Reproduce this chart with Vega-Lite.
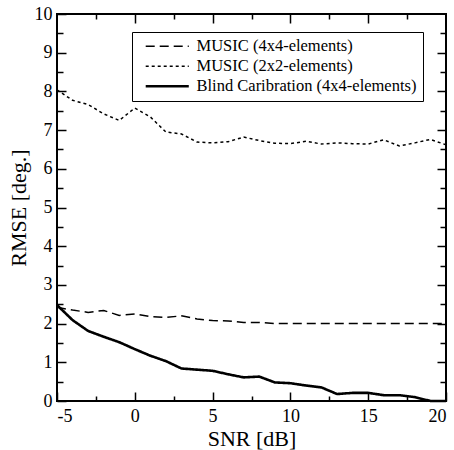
{
  "$schema": "https://vega.github.io/schema/vega-lite/v6.json",
  "width": 389,
  "height": 387,
  "autosize": "none",
  "padding": {"left": 57, "top": 14, "right": 8, "bottom": 49},
  "background": "white",
  "config": {
    "view": {"stroke": "black", "strokeWidth": 2, "fill": "transparent"},
    "font": "Liberation Serif",
    "axis": {
      "grid": false, "domain": false, "ticks": true, "tickColor": "black", "tickWidth": 1.5, "tickOpacity": 1,
      "labelFont": "Liberation Serif", "labelFontSize": 18, "labelColor": "black",
      "titleFont": "Liberation Serif", "titleFontSize": 22, "titleFontWeight": "normal", "titleColor": "black"
    }
  },
  "data": {
    "values": [
      {"snr": -5, "rmse": 2.42, "method": "MUSIC (4x4-elements)"},
      {"snr": -4, "rmse": 2.35, "method": "MUSIC (4x4-elements)"},
      {"snr": -3, "rmse": 2.29, "method": "MUSIC (4x4-elements)"},
      {"snr": -2, "rmse": 2.34, "method": "MUSIC (4x4-elements)"},
      {"snr": -1, "rmse": 2.21, "method": "MUSIC (4x4-elements)"},
      {"snr": 0, "rmse": 2.25, "method": "MUSIC (4x4-elements)"},
      {"snr": 1, "rmse": 2.18, "method": "MUSIC (4x4-elements)"},
      {"snr": 2, "rmse": 2.16, "method": "MUSIC (4x4-elements)"},
      {"snr": 3, "rmse": 2.2, "method": "MUSIC (4x4-elements)"},
      {"snr": 4, "rmse": 2.12, "method": "MUSIC (4x4-elements)"},
      {"snr": 5, "rmse": 2.08, "method": "MUSIC (4x4-elements)"},
      {"snr": 6, "rmse": 2.07, "method": "MUSIC (4x4-elements)"},
      {"snr": 7, "rmse": 2.03, "method": "MUSIC (4x4-elements)"},
      {"snr": 8, "rmse": 2.03, "method": "MUSIC (4x4-elements)"},
      {"snr": 9, "rmse": 2.0, "method": "MUSIC (4x4-elements)"},
      {"snr": 10, "rmse": 2.0, "method": "MUSIC (4x4-elements)"},
      {"snr": 11, "rmse": 2.0, "method": "MUSIC (4x4-elements)"},
      {"snr": 12, "rmse": 2.0, "method": "MUSIC (4x4-elements)"},
      {"snr": 13, "rmse": 2.0, "method": "MUSIC (4x4-elements)"},
      {"snr": 14, "rmse": 2.0, "method": "MUSIC (4x4-elements)"},
      {"snr": 15, "rmse": 2.0, "method": "MUSIC (4x4-elements)"},
      {"snr": 16, "rmse": 2.0, "method": "MUSIC (4x4-elements)"},
      {"snr": 17, "rmse": 2.0, "method": "MUSIC (4x4-elements)"},
      {"snr": 18, "rmse": 2.0, "method": "MUSIC (4x4-elements)"},
      {"snr": 19, "rmse": 2.0, "method": "MUSIC (4x4-elements)"},
      {"snr": 20, "rmse": 2.0, "method": "MUSIC (4x4-elements)"},
      {"snr": -5, "rmse": 8.04, "method": "MUSIC (2x2-elements)"},
      {"snr": -4, "rmse": 7.77, "method": "MUSIC (2x2-elements)"},
      {"snr": -3, "rmse": 7.66, "method": "MUSIC (2x2-elements)"},
      {"snr": -2, "rmse": 7.42, "method": "MUSIC (2x2-elements)"},
      {"snr": -1, "rmse": 7.25, "method": "MUSIC (2x2-elements)"},
      {"snr": 0, "rmse": 7.57, "method": "MUSIC (2x2-elements)"},
      {"snr": 1, "rmse": 7.34, "method": "MUSIC (2x2-elements)"},
      {"snr": 2, "rmse": 6.95, "method": "MUSIC (2x2-elements)"},
      {"snr": 3, "rmse": 6.9, "method": "MUSIC (2x2-elements)"},
      {"snr": 4, "rmse": 6.69, "method": "MUSIC (2x2-elements)"},
      {"snr": 5, "rmse": 6.67, "method": "MUSIC (2x2-elements)"},
      {"snr": 6, "rmse": 6.7, "method": "MUSIC (2x2-elements)"},
      {"snr": 7, "rmse": 6.82, "method": "MUSIC (2x2-elements)"},
      {"snr": 8, "rmse": 6.73, "method": "MUSIC (2x2-elements)"},
      {"snr": 9, "rmse": 6.66, "method": "MUSIC (2x2-elements)"},
      {"snr": 10, "rmse": 6.65, "method": "MUSIC (2x2-elements)"},
      {"snr": 11, "rmse": 6.71, "method": "MUSIC (2x2-elements)"},
      {"snr": 12, "rmse": 6.64, "method": "MUSIC (2x2-elements)"},
      {"snr": 13, "rmse": 6.67, "method": "MUSIC (2x2-elements)"},
      {"snr": 14, "rmse": 6.65, "method": "MUSIC (2x2-elements)"},
      {"snr": 15, "rmse": 6.64, "method": "MUSIC (2x2-elements)"},
      {"snr": 16, "rmse": 6.75, "method": "MUSIC (2x2-elements)"},
      {"snr": 17, "rmse": 6.59, "method": "MUSIC (2x2-elements)"},
      {"snr": 18, "rmse": 6.67, "method": "MUSIC (2x2-elements)"},
      {"snr": 19, "rmse": 6.76, "method": "MUSIC (2x2-elements)"},
      {"snr": 20, "rmse": 6.62, "method": "MUSIC (2x2-elements)"},
      {"snr": -5, "rmse": 2.48, "method": "Blind Caribration (4x4-elements)"},
      {"snr": -4, "rmse": 2.09, "method": "Blind Caribration (4x4-elements)"},
      {"snr": -3, "rmse": 1.81, "method": "Blind Caribration (4x4-elements)"},
      {"snr": -2, "rmse": 1.66, "method": "Blind Caribration (4x4-elements)"},
      {"snr": -1, "rmse": 1.52, "method": "Blind Caribration (4x4-elements)"},
      {"snr": 0, "rmse": 1.34, "method": "Blind Caribration (4x4-elements)"},
      {"snr": 1, "rmse": 1.17, "method": "Blind Caribration (4x4-elements)"},
      {"snr": 2, "rmse": 1.03, "method": "Blind Caribration (4x4-elements)"},
      {"snr": 3, "rmse": 0.84, "method": "Blind Caribration (4x4-elements)"},
      {"snr": 4, "rmse": 0.81, "method": "Blind Caribration (4x4-elements)"},
      {"snr": 5, "rmse": 0.78, "method": "Blind Caribration (4x4-elements)"},
      {"snr": 6, "rmse": 0.69, "method": "Blind Caribration (4x4-elements)"},
      {"snr": 7, "rmse": 0.61, "method": "Blind Caribration (4x4-elements)"},
      {"snr": 8, "rmse": 0.63, "method": "Blind Caribration (4x4-elements)"},
      {"snr": 9, "rmse": 0.48, "method": "Blind Caribration (4x4-elements)"},
      {"snr": 10, "rmse": 0.46, "method": "Blind Caribration (4x4-elements)"},
      {"snr": 11, "rmse": 0.4, "method": "Blind Caribration (4x4-elements)"},
      {"snr": 12, "rmse": 0.35, "method": "Blind Caribration (4x4-elements)"},
      {"snr": 13, "rmse": 0.18, "method": "Blind Caribration (4x4-elements)"},
      {"snr": 14, "rmse": 0.21, "method": "Blind Caribration (4x4-elements)"},
      {"snr": 15, "rmse": 0.21, "method": "Blind Caribration (4x4-elements)"},
      {"snr": 16, "rmse": 0.15, "method": "Blind Caribration (4x4-elements)"},
      {"snr": 17, "rmse": 0.15, "method": "Blind Caribration (4x4-elements)"},
      {"snr": 18, "rmse": 0.1, "method": "Blind Caribration (4x4-elements)"},
      {"snr": 19, "rmse": 0.0, "method": "Blind Caribration (4x4-elements)"},
      {"snr": 20, "rmse": 0.0, "method": "Blind Caribration (4x4-elements)"}
    ]
  },
  "layer": [
    {
      "mark": {"type": "line", "color": "black"},
      "encoding": {
        "x": {"field": "snr", "type": "quantitative", "scale": {"domain": [-5, 20], "nice": false, "zero": false},
              "axis": {"orient": "bottom", "zindex": 1, "values": [-5, 0, 5, 10, 15, 20], "tickSize": -9, "labelPadding": 15, "labelExpr": "'' + datum.value", "title": "SNR [dB]", "titlePadding": 3}},
        "y": {"field": "rmse", "type": "quantitative", "scale": {"domain": [0, 10], "nice": false},
              "axis": {"orient": "left", "zindex": 1, "values": [0, 1, 2, 3, 4, 5, 6, 7, 8, 9, 10], "tickSize": -9, "labelPadding": 14, "title": "RMSE [deg.]", "titlePadding": 4}},
        "strokeDash": {"field": "method", "type": "nominal",
          "scale": {"domain": ["MUSIC (4x4-elements)", "MUSIC (2x2-elements)", "Blind Caribration (4x4-elements)"], "range": [[9, 5], [3, 3], [1, 0]]},
          "legend": {"title": null, "orient": "none", "legendX": 75, "legendY": 18, "strokeColor": "black", "fillColor": "white",
                     "padding": 6, "labelFont": "Liberation Serif", "labelFontSize": 16.5, "labelColor": "black", "labelLimit": 400,
                     "symbolType": "M-4,0H4", "symbolSize": 116, "symbolStrokeColor": "black", "symbolOffset": 21, "labelOffset": 21, "rowPadding": 3}},
        "strokeWidth": {"field": "method", "type": "nominal",
          "scale": {"type": "ordinal", "domain": ["MUSIC (4x4-elements)", "MUSIC (2x2-elements)", "Blind Caribration (4x4-elements)"], "range": [1.5, 1.5, 2.6]}}
      }
    },
    {
      "mark": {"type": "point", "opacity": 0},
      "encoding": {
        "x": {"field": "snr", "type": "quantitative", "axis": {"orient": "bottom", "zindex": 1, "values": [-2.5, 2.5, 7.5, 12.5, 17.5], "tickSize": -5, "labels": false, "title": null}},
        "y": {"field": "rmse", "type": "quantitative", "axis": {"orient": "left", "zindex": 1, "values": [0.5, 1.5, 2.5, 3.5, 4.5, 5.5, 6.5, 7.5, 8.5, 9.5], "tickSize": -6, "labels": false, "title": null}}
      }
    },
    {
      "mark": {"type": "point", "opacity": 0},
      "encoding": {
        "x": {"field": "snr", "type": "quantitative", "axis": {"orient": "top", "zindex": 1, "values": [0, 5, 10, 15], "tickSize": -9, "labels": false, "title": null}},
        "y": {"field": "rmse", "type": "quantitative", "axis": {"orient": "right", "zindex": 1, "values": [1, 2, 3, 4, 5, 6, 7, 8, 9], "tickSize": -9, "labels": false, "title": null}}
      }
    },
    {
      "mark": {"type": "point", "opacity": 0},
      "encoding": {
        "x": {"field": "snr", "type": "quantitative", "axis": {"orient": "top", "zindex": 1, "values": [-2.5, 2.5, 7.5, 12.5, 17.5], "tickSize": -5, "labels": false, "title": null}},
        "y": {"field": "rmse", "type": "quantitative", "axis": {"orient": "right", "zindex": 1, "values": [0.5, 1.5, 2.5, 3.5, 4.5, 5.5, 6.5, 7.5, 8.5, 9.5], "tickSize": -6, "labels": false, "title": null}}
      }
    }
  ],
  "resolve": {"axis": {"x": "independent", "y": "independent"}}
}
